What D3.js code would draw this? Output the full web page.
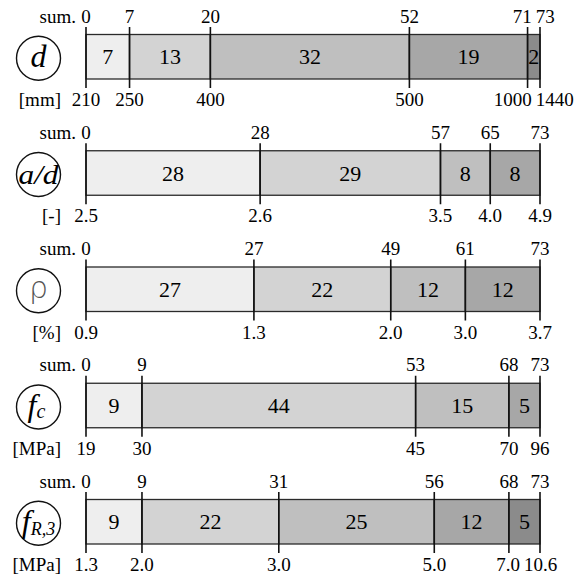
<!DOCTYPE html>
<html>
<head>
<meta charset="utf-8">
<script src="https://cdn.jsdelivr.net/npm/d3@7"></script>
</head>
<body style="margin:0">
<svg id="chart" width="588" height="576"></svg>
<script>
// Variables shown, one per row
const rowKeys = ["d", "ad", "rho", "fc", "fR3"];
const units = ["[mm]", "[-]", "[%]", "[MPa]", "[MPa]"];

// Number of specimens in each range, per variable
const counts_d   = [7, 13, 32, 19, 2];
const counts_ad  = [28, 29, 8, 8];
const counts_rho = [27, 22, 12, 12];
const counts_fc  = [9, 44, 15, 5];
const counts_fR3 = [9, 22, 25, 12, 5];

// Range boundaries, per variable
const bounds_d   = ["210", "250", "400", "500", "1000", "1440"];
const bounds_ad  = ["2.5", "2.6", "3.5", "4.0", "4.9"];
const bounds_rho = ["0.9", "1.3", "2.0", "3.0", "3.7"];
const bounds_fc  = ["19", "30", "45", "70", "96"];
const bounds_fR3 = ["1.3", "2.0", "3.0", "5.0", "7.0", "10.6"];

const countsByRow = [counts_d, counts_ad, counts_rho, counts_fc, counts_fR3];
const boundsByRow = [bounds_d, bounds_ad, bounds_rho, bounds_fc, bounds_fR3];

const total = 73;
const fills = ["#eeeeee", "#d3d3d3", "#bfbfbf", "#a7a7a7", "#8b8b8b"];
const labelSize = 19;

const svg = d3.select("#chart");
const x = d3.scaleLinear().domain([0, total]).range([86, 540]);
const y = d3.scalePoint().domain(rowKeys).range([34.5, 499.5]);
const barH = 44.5;
const tickUp = 7.5, tickDown = 9;

// Approximate advance width of a numeric label in a Times-style face
function labelWidth(s, size) {
  return d3.sum(String(s).split(""), c => (c === "." ? 0.25 : 0.5)) * size;
}

// Label centres pushed apart where neighbours would overlap
function spread(positions, labels, size) {
  const boxes = positions.map((cx, i) => ({ cx, w: labelWidth(labels[i], size), dx: 0 }));
  const gap = 4;
  for (let iter = 0; iter < 10; iter++) {
    for (let i = 1; i < boxes.length; i++) {
      const a = boxes[i - 1], b = boxes[i];
      const ov = a.cx + a.dx + a.w / 2 + gap - (b.cx + b.dx - b.w / 2);
      if (ov > 0) { a.dx -= ov / 2; b.dx += ov / 2; }
    }
  }
  return boxes.map(b => b.cx + b.dx);
}

// All text goes straight onto the svg root in the serif face
function addText(str, px, py, size, anchor) {
  return svg.append("text")
    .style("font-family", "'Liberation Serif'")
    .style("font-size", size + "px")
    .attr("x", px).attr("y", py)
    .attr("text-anchor", anchor || "middle")
    .text(str);
}

rowKeys.forEach((key, r) => {
  const counts = countsByRow[r];
  const bounds = boundsByRow[r];
  const cum = [0, ...d3.cumsum(counts)];
  const top = y(key);

  // segments
  svg.append("g").selectAll("rect").data(counts).join("rect")
    .attr("x", (d, i) => x(cum[i]))
    .attr("y", top)
    .attr("width", (d, i) => x(cum[i + 1]) - x(cum[i]))
    .attr("height", barH)
    .attr("fill", (d, i) => fills[i])
    .attr("stroke", "#2a2a2a")
    .attr("stroke-width", 1.3);

  // boundary lines
  svg.append("g").selectAll("line").data(cum).join("line")
    .attr("x1", d => x(d)).attr("x2", d => x(d))
    .attr("y1", top - tickUp).attr("y2", top + barH + tickDown)
    .attr("stroke", "#111")
    .attr("stroke-width", 1.6);

  // segment counts
  counts.forEach((c, i) => addText(String(c), (x(cum[i]) + x(cum[i + 1])) / 2, top + barH / 2 + 7.5, 22));

  // cumulative sums above, range boundaries below
  const px = cum.map(v => x(v));
  const topX = spread(px, cum.map(String), labelSize);
  const botX = spread(px, bounds, labelSize);
  cum.forEach((v, i) => addText(String(v), topX[i], top - 12, labelSize));
  bounds.forEach((b, i) => addText(b, botX[i], top + barH + 27, labelSize));

  // row captions
  addText("sum.", 76, top - 12, labelSize, "end");
  addText(units[r], 61, top + barH + 27, labelSize, "end");

  // circled symbol
  const cx = 38.5, cy = top + barH / 2 + 1.5;
  svg.append("circle").attr("cx", cx).attr("cy", cy).attr("r", 22)
    .attr("fill", "none").attr("stroke", "#111").attr("stroke-width", 1.4);

  if (key === "d") {
    addText("d", cx, cy + 9, 32).style("font-style", "italic");
  } else if (key === "ad") {
    addText("a/d", cx, cy + 9, 28).style("font-style", "italic")
      .attr("textLength", 40).attr("lengthAdjust", "spacingAndGlyphs");
  } else if (key === "rho") {
    addText("ρ", cx, cy + 7, 30).style("font-family", "'DejaVu Sans'")
      .style("font-weight", 200).attr("fill", "#555");
  } else if (key === "fc") {
    const t = addText("", cx - 2, cy + 9, 32).style("font-style", "italic");
    t.append("tspan").text("f");
    t.append("tspan").style("font-size", "20px").attr("dy", 2).text("c");
  } else {
    const t = addText("", cx, cy + 9, 32).style("font-style", "italic");
    t.append("tspan").text("f");
    t.append("tspan").style("font-size", "18px").attr("dy", 3).text("R,3");
  }
});
</script>
</body>
</html>
